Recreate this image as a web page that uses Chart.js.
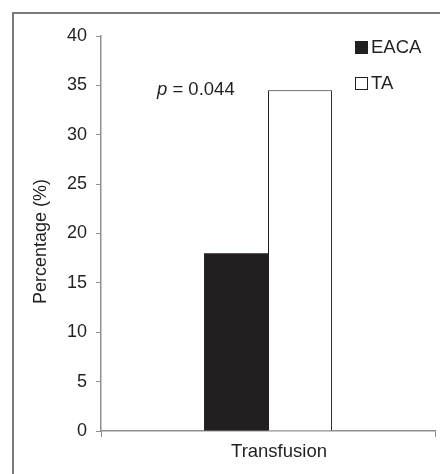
<!DOCTYPE html>
<html>
<head>
<meta charset="utf-8">
<script src="https://cdn.jsdelivr.net/npm/chart.js@4.4.1/dist/chart.umd.min.js"></script>
<style>
  html, body { margin: 0; padding: 0; background: #fff; overflow: hidden; }
  #wrap { width: 440px; height: 474px; }
</style>
</head>
<body>
<div id="wrap"><canvas id="barChart"></canvas></div>
<script>
const categories = ['Transfusion'];
const eacaValues = [18.0];
const taValues = [34.5];
const yTicks = [0, 5, 10, 15, 20, 25, 30, 35, 40];
const yTitle = 'Percentage (%)';
const pLabel = '0.044';

const ink = '#231f20';
const axisGrey = '#8f8f8f';
const fontName = '"Liberation Sans", Arial, sans-serif';

// frame (only left and top edges show), y title, legend and p value
const decorations = {
  id: 'decorations',
  beforeDraw(chart) {
    const c = chart.ctx;
    c.save();
    c.strokeStyle = '#7a7a7a';
    c.lineWidth = 2;
    c.beginPath();
    c.moveTo(13, 474);
    c.lineTo(13, 13);
    c.lineTo(440, 13);
    c.stroke();
    c.restore();
  },
  afterDraw(chart) {
    const c = chart.ctx;
    c.save();
    // y axis title (sits a little below the axis middle in the original)
    c.translate(46, 241.5);
    c.rotate(-Math.PI / 2);
    c.font = '18px ' + fontName;
    c.textAlign = 'center';
    c.textBaseline = 'alphabetic';
    c.fillStyle = ink;
    c.fillText(yTitle, 0, 0);
    c.restore();

    c.save();
    c.font = '18.5px ' + fontName;
    c.textBaseline = 'middle';
    chart.data.datasets.forEach((ds, i) => {
      const y = 41 + i * 36;
      c.fillStyle = ds.backgroundColor;
      c.fillRect(355, y, 13, 13);
      c.strokeStyle = ink;
      c.lineWidth = 1;
      c.strokeRect(355.5, y + 0.5, 12, 12);
      c.fillStyle = ink;
      c.fillText(ds.label, 371, y + 7);
    });
    // p value
    c.textBaseline = 'alphabetic';
    c.font = 'italic 18.5px ' + fontName;
    c.fillText('p', 157, 94.5);
    const w = c.measureText('p').width;
    c.font = '18.5px ' + fontName;
    c.fillText(' = ' + pLabel, 157 + w, 94.5);
    c.restore();
  }
};

const ctx = document.getElementById('barChart').getContext('2d');
const barChart = new Chart(ctx, {
  type: 'bar',
  data: {
    labels: categories,
    datasets: [{
      label: 'EACA',
      data: eacaValues,
      backgroundColor: ink,
      borderColor: ink,
      borderWidth: 0,
      barPercentage: 1,
      categoryPercentage: 0.383
    },
    {
      label: 'TA',
      data: taValues,
      backgroundColor: '#ffffff',
      borderColor: ink,
      borderWidth: 1,
      barPercentage: 1,
      categoryPercentage: 0.383
    }]
  },
  options: {
    responsive: true,
    maintainAspectRatio: false,
    animation: false,
    layout: { padding: { left: 0, right: 5, top: 36, bottom: 0 } },
    scales: {
      x: {
        grid: { display: true, drawOnChartArea: false, color: axisGrey, tickLength: 6 },
        border: { color: axisGrey, width: 1.5 },
        ticks: { color: ink, font: { family: fontName, size: 18.5 }, padding: 4, labelOffset: 11 },
        afterFit(scale) { scale.height = 43; }
      },
      y: {
        min: 0,
        max: 40,
        afterBuildTicks(scale) { scale.ticks = yTicks.map(v => ({ value: v })); },
        grid: { display: true, drawOnChartArea: false, color: axisGrey, tickLength: 5 },
        border: { color: axisGrey, width: 1.5 },
        ticks: { color: ink, font: { family: fontName, size: 18 }, padding: 9 },
        afterFit(scale) { scale.width = 101; }
      }
    },
    plugins: {
      legend: { display: false },
      tooltip: { enabled: false }
    }
  },
  plugins: [decorations]
});
</script>
</body>
</html>
